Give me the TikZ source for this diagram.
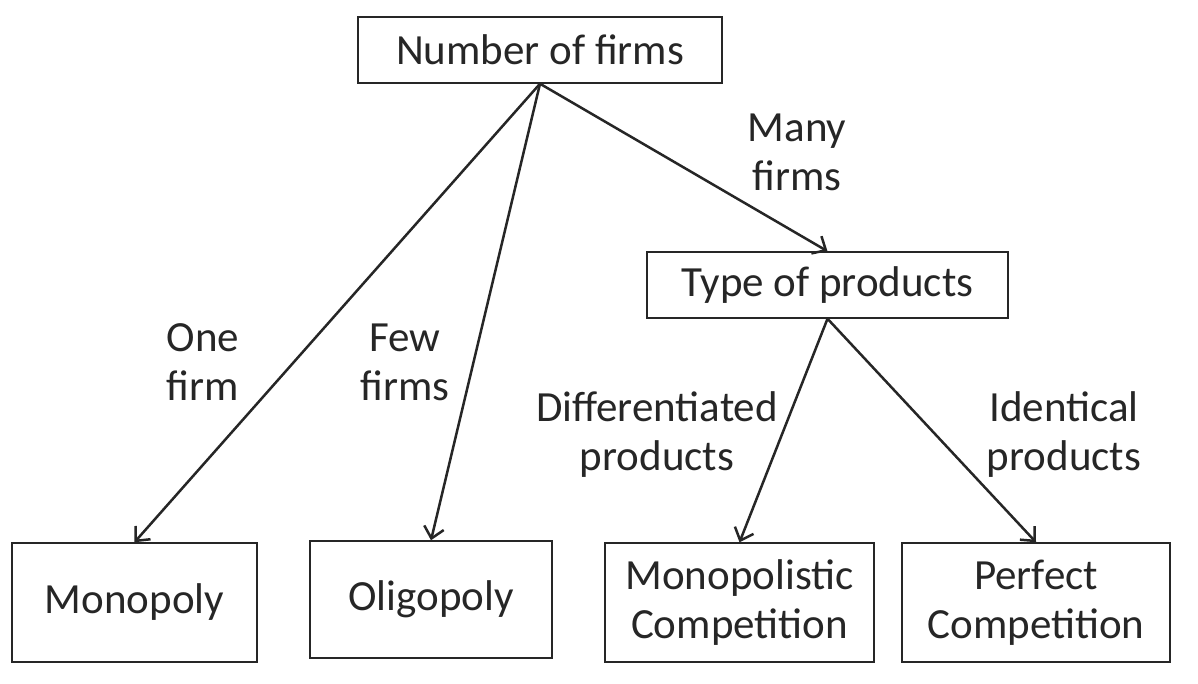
\documentclass[tikz,border=0pt]{standalone}
\usepackage{fontspec}
\setmainfont{Carlito}
\usetikzlibrary{arrows.meta}
\begin{document}
\begin{tikzpicture}[x=1pt,y=-1pt,
  box/.style={draw=black!85,line width=1.5pt,rectangle,inner sep=0pt,align=center,
    font=\fontsize{43}{49}\selectfont,text=black!85},
  lbl/.style={inner sep=0pt,align=center,font=\fontsize{43}{49}\selectfont,text=black!85},
  conn/.style={draw=black!85,line width=2.5pt,-{Straight Barb[length=11pt,width=20pt,line width=2.5pt]}}]
\useasboundingbox[fill=white] (0,0) rectangle (1198,684);
\node[box,minimum width=364pt,minimum height=66pt] (nf) at (540,50) {Number of firms};
\node[box,minimum width=361pt,minimum height=66pt] (tp) at (827.5,285) {Type of products};
\node[box,minimum width=245pt,minimum height=119pt] (mono) at (134.5,602.5) {Monopoly};
\node[box,minimum width=242pt,minimum height=117pt] (olig) at (431,599.5) {Oligopoly};
\node[box,minimum width=269pt,minimum height=119pt] (mc) at (739.5,602.5) {Monopolistic\\Competition};
\node[box,minimum width=268pt,minimum height=119pt] (pc) at (1036,602.5) {Perfect\\Competition};
\draw[conn] (nf.south) -- (mono.north);
\draw[conn] (nf.south) -- (olig.north);
\draw[conn] (nf.south) -- (tp.north);
\draw[conn] (tp.south) -- (mc.north);
\draw[conn] (tp.south) -- (pc.north);
\node[lbl] (l1) at (203,362) {One\\firm};
\node[lbl] (l2) at (405,362) {Few\\firms};
\node[lbl] (l3) at (797,152) {Many\\firms};
\node[lbl] (l4) at (657,435) {Differentiated\\products};
\node[lbl] (l5) at (1064,435) {Identical\\products};
\end{tikzpicture}
\end{document}
